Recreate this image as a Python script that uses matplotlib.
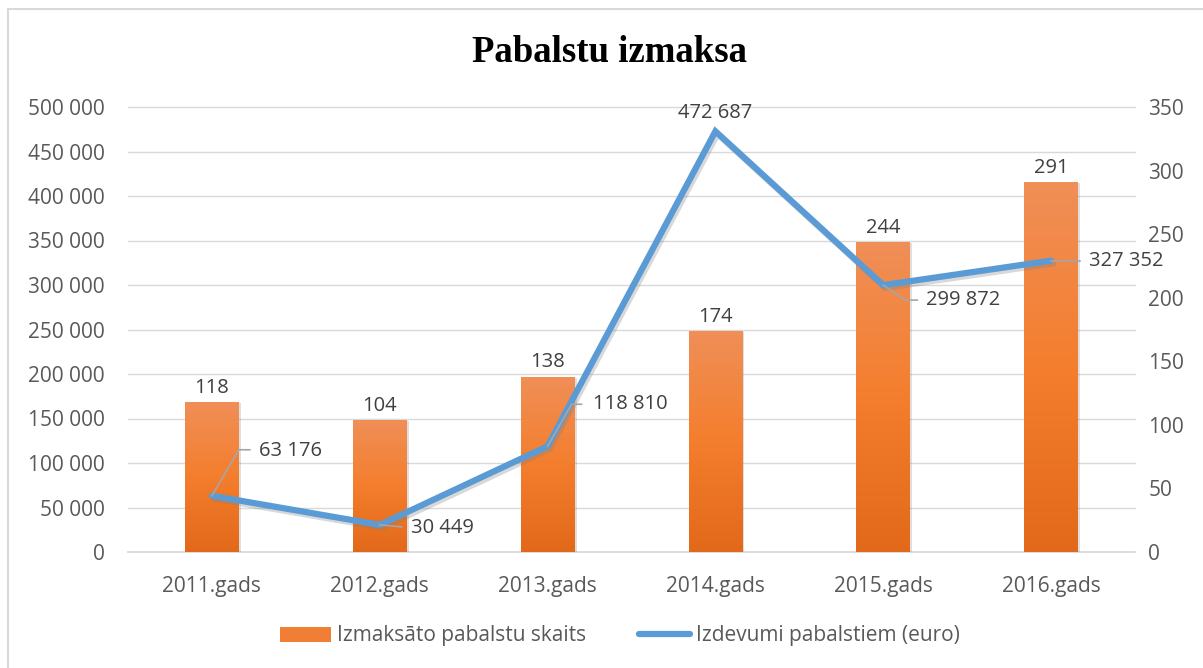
import numpy as np
import matplotlib
matplotlib.use('Agg')
import matplotlib.pyplot as plt
from matplotlib.patches import Rectangle, Patch
from matplotlib.lines import Line2D
from matplotlib.ticker import FuncFormatter, MultipleLocator
from matplotlib.transforms import blended_transform_factory, IdentityTransform
from matplotlib.colors import LinearSegmentedColormap
import matplotlib.patheffects as pe

# ---------------- data ----------------
categories = ['2011.gads', '2012.gads', '2013.gads', '2014.gads', '2015.gads', '2016.gads']
bar_values = [118, 104, 138, 174, 244, 291]              # Izmaksāto pabalstu skaits (right axis)
line_values = [63176, 30449, 118810, 472687, 299872, 327352]  # Izdevumi pabalstiem (left axis)
bar_name = 'Izmaksāto pabalstu skaits'
line_name = 'Izdevumi pabalstiem (euro)'
title_text = 'Pabalstu izmaksa'
left_max, left_step = 500000, 50000
right_max, right_step = 350, 50

# ---------------- style ----------------
plt.rcParams['font.family'] = ['Open Sans', 'DejaVu Sans']
W, H = 1203, 668
DPI = 100
TICK_COLOR = '#595959'
LABEL_COLOR = '#404040'
GRID_COLOR = '#D9D9D9'
LINE_COLOR = '#5B9BD5'
LEADER_COLOR = '#A6A6A6'

fig = plt.figure(figsize=(W / DPI, H / DPI), dpi=DPI)

# outer chart border (extends past the right/bottom edge)
fig.add_artist(Rectangle((8 / W, -0.05), 1.1, 1 - 9 / H + 0.05, transform=fig.transFigure,
                         fill=False, edgecolor=GRID_COLOR, linewidth=1.5))

ax = fig.add_axes([128 / W, (H - 552) / H, (1135 - 128) / W, (552 - 107) / H])
ax_bar = ax.twinx()
ax.set_zorder(2)
ax.patch.set_visible(False)
ax_bar.set_zorder(1)

x = np.arange(len(categories))
for a in (ax, ax_bar):
    a.set_xlim(-0.5, len(categories) - 0.5)
    for s in a.spines.values():
        s.set_visible(False)
ax.set_ylim(0, left_max)
ax_bar.set_ylim(0, right_max)

# gridlines (left axis values) drawn beneath the bars
gtrans = blended_transform_factory(ax_bar.transAxes, ax.transData)
for v in np.arange(0, left_max + 1, left_step):
    ax_bar.plot([0, 1], [v, v], transform=gtrans, color=GRID_COLOR, lw=1.3 if v == 0 else 1.0,
                zorder=0, clip_on=False)

# bars with vertical gradient
cmap = LinearSegmentedColormap.from_list('og', [(0, '#E2691A'), (0.5, '#F47E2D'), (1, '#F08F58')])
bw = 0.32
bars = ax_bar.bar(x, bar_values, width=bw, color='#F07F35', zorder=2,
                  path_effects=[pe.SimplePatchShadow(offset=(1.5, -1), alpha=0.25, shadow_rgbFace='gray'),
                                pe.Normal()])
grad = np.linspace(0, 1, 256).reshape(-1, 1)
for rect, xi, v in zip(bars, x, bar_values):
    im = ax_bar.imshow(grad, extent=[xi - bw / 2, xi + bw / 2, 0, v], origin='lower', aspect='auto',
                       cmap=cmap, zorder=3, interpolation='bilinear')
    im.set_clip_path(rect)
    ax_bar.annotate(f'{v}', (xi, v), xytext=(0, 3), textcoords='offset points', ha='center',
                    va='bottom', fontsize=14.5, color=LABEL_COLOR)
ax_bar.set_xlim(-0.5, len(categories) - 0.5)
ax_bar.set_ylim(0, right_max)

# line
ax.plot(x, line_values, color=LINE_COLOR, lw=4.5, solid_joinstyle='miter', solid_capstyle='round',
        zorder=3, path_effects=[pe.SimpleLineShadow(offset=(1.5, -2), alpha=0.3, shadow_color='gray'),
                                pe.Normal()])

# axes ticks
fmt = FuncFormatter(lambda v, p: f'{int(v):,}'.replace(',', ' '))
ax.yaxis.set_major_locator(MultipleLocator(left_step))
ax.yaxis.set_major_formatter(fmt)
ax_bar.yaxis.set_major_locator(MultipleLocator(right_step))
ax.set_xticks(x)
ax.set_xticklabels(categories)
ax.tick_params(axis='y', length=0, pad=17, labelsize=15, labelcolor=TICK_COLOR)
ax.tick_params(axis='x', length=0, pad=17.5, labelsize=15, labelcolor=TICK_COLOR)
ax_bar.tick_params(axis='y', length=0, pad=9.5, labelsize=15, labelcolor=TICK_COLOR)
ax_bar.tick_params(axis='x', length=0, labelbottom=False)

# line data labels with leader lines (offsets in pixels)
label_layout = [
    # (text offset dx, dy, ha, leader polyline offsets)
    (47, 45, 'left', [(0, 0), (27, 46), (38, 46)]),
    (31, -3, 'left', [(0, 0), (22, -2)]),
    (45, 42, 'left', [(0, 0), (24, 42), (34, 42)]),
    (0, 18, 'center', None),
    (43, -15, 'left', [(0, 0), (22, -15), (34, -15)]),
    (38, 0, 'left', [(0, 0), (29, 0)]),
]
for xi, v, (dx, dy, ha, leader) in zip(x, line_values, label_layout):
    ax.annotate(f'{v:,}'.replace(',', ' '), (xi, v), xytext=(dx * 72 / DPI, dy * 72 / DPI),
                textcoords='offset points', ha=ha, va='center', fontsize=14.5, color=LABEL_COLOR,
                zorder=5)
    if leader:
        px, py = ax.transData.transform((xi, v))
        fig.add_artist(Line2D([px + a for a, b in leader], [py + b for a, b in leader],
                              transform=IdentityTransform(), color=LEADER_COLOR, lw=1.2, zorder=4))

# title
fig.text(610 / W, 1 - 53 / H, title_text, ha='center', va='center', fontsize=26.5,
         fontweight='bold', family=['Liberation Serif', 'DejaVu Serif'], color='black')

# legend
handles = [Patch(facecolor='#F07F35', edgecolor='none', label=bar_name),
           Line2D([0], [0], color=LINE_COLOR, lw=4.5, solid_capstyle='round', label=line_name)]
fig.legend(handles=handles, loc='center', bbox_to_anchor=(620 / W, 1 - 636 / H), ncol=2,
           frameon=False, fontsize=15, labelcolor=TICK_COLOR, handlelength=2.45,
           handletextpad=0.3, columnspacing=2.5, handleheight=0.7)

fig.savefig('out.png', dpi=DPI)
